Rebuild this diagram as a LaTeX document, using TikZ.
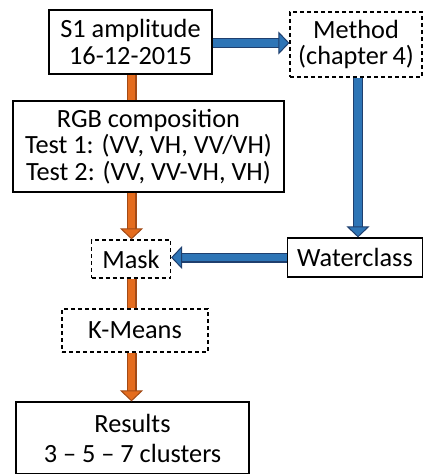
\documentclass[tikz,border=0pt]{standalone}
\usepackage{fontspec}
\setmainfont{Carlito}
\usepackage{tikz}
\usetikzlibrary{arrows.meta}
\definecolor{orfill}{HTML}{E46C1E}
\definecolor{orline}{HTML}{A24A16}
\definecolor{blfill}{HTML}{2E75B6}
\definecolor{blline}{HTML}{1F3F6E}

\begin{document}
\begin{tikzpicture}[x=1pt,y=-1pt,font=\fontsize{26.3}{26.5}\selectfont,
  box/.style={draw,line width=1.2pt,fill=white,inner sep=0pt,align=center},
  dbox/.style={box,dash pattern=on 4pt off 3pt},
  shaft/.style={line width=7.5pt,draw=#1fill,preaction={draw=#1line,line width=10pt}},
  fat/.style={line width=7.5pt,draw=#1fill,preaction={arrows=-,draw=#1line,line width=10pt,shorten >=9pt},
    -{Triangle[width=23pt,length=11pt,fill=#1fill,color=#1line,line width=1pt]}}]
  \useasboundingbox (0,0) rectangle (423,474);
  \node[box,minimum width=163pt,minimum height=64pt] (s1) at (130.5,42) {S1 amplitude\\16-12-2015};
  \node[dbox,minimum width=132pt,minimum height=65pt] (method) at (356,44.5) {Method\\(chapter\,4)};
  \node[box,minimum width=271pt,minimum height=91pt] (rgb) at (148.5,146.5)
    {RGB composition\\Test 1: (VV, VH, VV/VH)\\Test 2: (VV, VV-VH, VH)};
  \node[box,minimum width=135pt,minimum height=39pt] (water) at (355,257.5) {Waterclass};
  \node[dbox,minimum width=79pt,minimum height=38pt] (mask) at (131,259) {Mask};
  \node[dbox,minimum width=146pt,minimum height=43pt] (kmeans) at (135,330.5) {K-Means};
  \node[box,minimum width=233pt,minimum height=72pt,font=\fontsize{26.3}{30}\selectfont] (results) at (132.5,438) {Results\\3 -- 5 -- 7 clusters};
  % orange chain
  \draw[shaft=or] ([xshift=1pt]s1.south) -- ([xshift=1pt]s1.south |- rgb.north);
  \draw[fat=or] ([xshift=1pt]s1.south |- rgb.south) -- ([xshift=1pt]s1.south |- mask.north);
  \draw[shaft=or] ([xshift=1pt]s1.south |- mask.south) -- ([xshift=1pt]s1.south |- kmeans.north);
  \draw[fat=or] ([xshift=1pt]s1.south |- kmeans.south) -- ([xshift=1pt]s1.south |- results.north);
  % blue chain
  \draw[fat=bl] ([yshift=-1pt]s1.east) -- ([yshift=-1pt]s1.east -| method.west);
  \draw[fat=bl] ([xshift=2pt]method.south) -- ([xshift=2pt]method.south |- water.north);
  \draw[fat=bl] (water.west) -- (water.west -| mask.east);
\end{tikzpicture}
\end{document}
